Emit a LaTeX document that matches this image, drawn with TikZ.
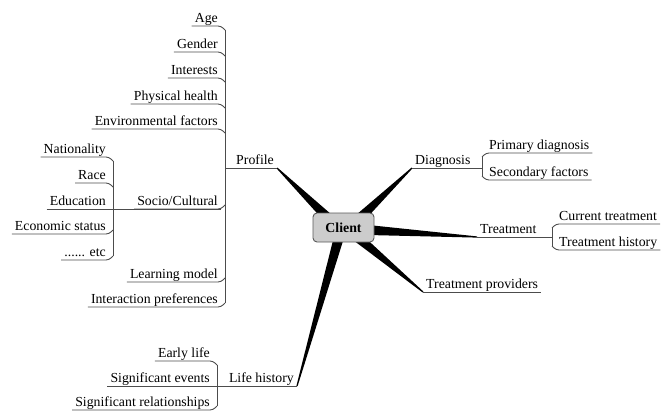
\documentclass[tikz,border=0pt]{standalone}
\usepackage{fontspec}
\setmainfont{LiberationSerif}[Extension=.ttf, UprightFont=*-Regular, BoldFont=*-Bold]
\usetikzlibrary{calc,backgrounds}
\tikzset{
  lbl/.style={font=\fontsize{13.8}{16}\selectfont, inner xsep=3pt, inner ysep=0.5pt, text height=10pt, text depth=2.5pt},
  br/.style={draw=black!70, line width=0.9pt, rounded corners=3pt},
  wedgefill/.style={fill=black},
  central/.style={draw=black!65, line width=0.9pt, fill=black!20, rounded corners=4pt, minimum width=61pt, minimum height=29pt, inner sep=0pt, font=\fontsize{13.8}{16}\selectfont\bfseries}
}
\newcommand\mmwedge[3]{\fill[wedgefill] ($(#1)!#3!90:(#2)$) -- ($(#2)!0.6pt!-90:(#1)$) -- ($(#2)!0.6pt!90:(#1)$) -- ($(#1)!#3!-90:(#2)$) -- cycle;}
\begin{document}
\begin{tikzpicture}[x=1pt,y=-1pt]
\useasboundingbox (0,0) rectangle (666,412);
% central
\node[central] (client) at (343.5,227.5) {Client};
% main branches
\node[lbl,anchor=south east] (prof) at (277,168) {Profile};
\node[lbl,anchor=south west] (diag) at (412,168) {Diagnosis};
\node[lbl,anchor=south west] (treat) at (477,237) {Treatment};
\node[lbl,anchor=south west] (tp) at (423,292) {Treatment providers};
\node[lbl,anchor=south east] (life) at (297,386) {Life history};
% profile children
\node[lbl,anchor=south east] (age) at (221,26) {Age};
\node[lbl,anchor=south east] (gender) at (221,52) {Gender};
\node[lbl,anchor=south east] (inter) at (221,78) {Interests};
\node[lbl,anchor=south east] (phys) at (221,104) {Physical health};
\node[lbl,anchor=south east] (env) at (221,129) {Environmental factors};
\node[lbl,anchor=south east] (soc) at (221,209) {Socio/Cultural};
\node[lbl,anchor=south east] (learn) at (221,282) {Learning model};
\node[lbl,anchor=south east] (interact) at (221,307) {Interaction preferences};
% socio children
\node[lbl,anchor=south east] (nat) at (109,157) {Nationality};
\node[lbl,anchor=south east] (race) at (109,183) {Race};
\node[lbl,anchor=south east] (edu) at (109,209) {Education};
\node[lbl,anchor=south east] (econ) at (109,234) {Economic status};
\node[lbl,anchor=south east] (etc) at (109,260) {...... etc};
% life children
\node[lbl,anchor=south east] (early) at (213,361) {Early life};
\node[lbl,anchor=south east] (sigev) at (213,386) {Significant events};
\node[lbl,anchor=south east] (sigrel) at (213,410) {Significant relationships};
% diagnosis children
\node[lbl,anchor=south west] (prim) at (486,153) {Primary diagnosis};
\node[lbl,anchor=south west] (sec) at (486,180) {Secondary factors};
% treatment children
\node[lbl,anchor=south west] (cur) at (556,224) {Current treatment};
\node[lbl,anchor=south west] (hist) at (556,250) {Treatment history};
% trunk coordinates
\coordinate (pt) at (225,168);
\coordinate (st) at (113,209);
\coordinate (lt) at (217,386);
\coordinate (dt) at (482,168);
\coordinate (tt) at (552,237);
% wedge starts
\coordinate (wprof) at (329,219);
\coordinate (wdiag) at (359,219);
\coordinate (wtreat) at (368,230);
\coordinate (wtp) at (356,236);
\coordinate (wlife) at (339,237);
\begin{scope}[on background layer]
\mmwedge{wprof}{prof.south east}{5pt}
\mmwedge{wdiag}{diag.south west}{5pt}
\mmwedge{wtreat}{treat.south west}{5pt}
\mmwedge{wtp}{tp.south west}{5pt}
\mmwedge{wlife}{life.south east}{5pt}
\end{scope}
% branch underlines
\draw[br] (prof.south east) -- (pt);
\draw[br] (diag.south west) -- (dt);
\draw[br] (treat.south west) -- (tt);
\draw[br] (tp.south west) -- (tp.south east);
\draw[br] (life.south east) -- (lt);
\draw[br] (soc.south east) -- (st);
% profile group
\foreach \n in {age,gender,inter,phys,env}
  \draw[br] (\n.south west) -- (\n.south east) -- ([shift={(4,4)}]\n.south east);
\foreach \n in {soc,learn,interact}
  \draw[br] (\n.south west) -- (\n.south east) -- ([shift={(4,-4)}]\n.south east);
\draw[br] ([shift={(4,4)}]age.south east) -- ([shift={(4,-4)}]interact.south east);
% socio group
\foreach \n in {nat,race}
  \draw[br] (\n.south west) -- (\n.south east) -- ([shift={(4,4)}]\n.south east);
\foreach \n in {econ,etc}
  \draw[br] (\n.south west) -- (\n.south east) -- ([shift={(4,-4)}]\n.south east);
\draw[br] (edu.south west) -- (st);
\draw[br] ([shift={(4,4)}]nat.south east) -- ([shift={(4,-4)}]etc.south east);
% life group
\draw[br] (early.south west) -- (early.south east) -- ([shift={(4,4)}]early.south east);
\draw[br] (sigrel.south west) -- (sigrel.south east) -- ([shift={(4,-4)}]sigrel.south east);
\draw[br] (sigev.south west) -- (lt);
\draw[br] ([shift={(4,4)}]early.south east) -- ([shift={(4,-4)}]sigrel.south east);
% diagnosis group
\draw[br] (prim.south east) -- (prim.south west) -- ([shift={(-4,4)}]prim.south west);
\draw[br] (sec.south east) -- (sec.south west) -- ([shift={(-4,-4)}]sec.south west);
\draw[br] ([shift={(-4,4)}]prim.south west) -- ([shift={(-4,-4)}]sec.south west);
% treatment group
\draw[br] (cur.south east) -- (cur.south west) -- ([shift={(-4,4)}]cur.south west);
\draw[br] (hist.south east) -- (hist.south west) -- ([shift={(-4,-4)}]hist.south west);
\draw[br] ([shift={(-4,4)}]cur.south west) -- ([shift={(-4,-4)}]hist.south west);
\end{tikzpicture}
\end{document}
